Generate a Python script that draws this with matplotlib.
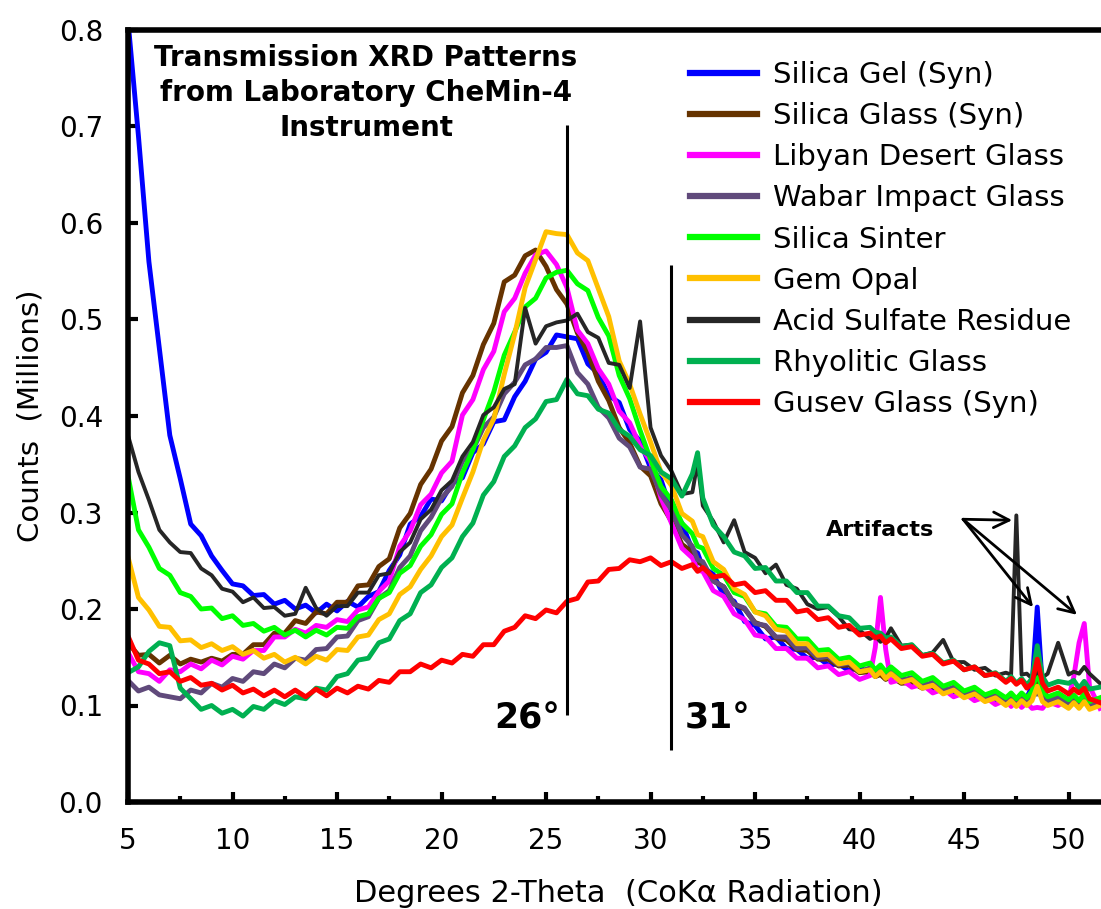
import numpy as np
import matplotlib
matplotlib.use("Agg")
import matplotlib.pyplot as plt
from matplotlib.ticker import MultipleLocator, FormatStrFormatter

# 2-theta sampling (degrees), extra points around the narrow artifact peaks
two_theta = [
    5.0, 5.5, 6.0, 6.5, 7.0, 7.5, 8.0, 8.5, 9.0, 9.5,
    10.0, 10.5, 11.0, 11.5, 12.0, 12.5, 13.0, 13.5, 14.0, 14.5,
    15.0, 15.5, 16.0, 16.5, 17.0, 17.5, 18.0, 18.5, 19.0, 19.5,
    20.0, 20.5, 21.0, 21.5, 22.0, 22.5, 23.0, 23.5, 24.0, 24.5,
    25.0, 25.5, 26.0, 26.5, 27.0, 27.5, 28.0, 28.5, 29.0, 29.5,
    30.0, 30.5, 31.0, 31.5, 32.0, 32.25, 32.5, 33.0, 33.5, 34.0, 34.5,
    35.0, 35.5, 36.0, 36.5, 37.0, 37.5, 38.0, 38.5, 39.0, 39.5,
    40.0, 40.5, 40.75, 41.0, 41.25, 41.5, 42.0, 42.5, 43.0, 43.5, 44.0, 44.5,
    45.0, 45.5, 46.0, 46.5, 47.0, 47.25, 47.5, 47.75, 48.0, 48.25, 48.5, 48.75, 49.0, 49.5,
    50.0, 50.25, 50.5, 50.75, 51.0, 51.5,
]

# counts in thousands
silica_gel = [
    810, 690, 560, 470, 380, 335, 288, 276, 255, 240,
    226, 224, 214, 215, 205, 209, 200, 204, 196, 205,
    198, 208, 202, 213, 218, 240, 256, 288, 296, 314,
    312, 330, 336, 362, 371, 394, 396, 420, 436, 459,
    466, 484, 482, 480, 454, 444, 421, 414, 386, 374,
    346, 334, 301, 289, 261, 258, 243, 236, 214, 208, 187,
    183, 169, 171, 159, 158, 149, 150, 142, 143, 136,
    140, 132, 136, 134, 135, 128, 130, 122, 124, 117, 119, 112,
    114, 108, 110, 104, 107, 102, 107, 104, 108, 120, 202, 118, 108, 109,
    103, 106, 101, 105, 100, 101,
]
silica_glass = [
    165, 152, 153, 144, 152, 143, 148, 145, 149, 146,
    153, 153, 163, 163, 175, 175, 188, 185, 197, 195,
    207, 207, 224, 225, 244, 252, 284, 299, 329, 345,
    374, 389, 424, 442, 474, 496, 539, 546, 566, 572,
    555, 531, 516, 486, 466, 436, 416, 388, 372, 348,
    338, 309, 291, 267, 259, 248, 247, 229, 223, 205, 200,
    186, 182, 170, 168, 158, 157, 148, 148, 141, 142,
    134, 135, 130, 132, 127, 130, 123, 124, 118, 120, 114, 116,
    110, 112, 107, 110, 105, 108, 104, 107, 105, 110, 125, 110, 106, 109,
    104, 107, 102, 106, 101, 102,
]
libyan_glass = [
    155, 135, 133, 125, 137, 135, 143, 138, 147, 142,
    151, 148, 157, 157, 171, 171, 179, 175, 183, 181,
    189, 187, 199, 202, 218, 229, 265, 281, 308, 319,
    341, 353, 401, 417, 448, 467, 508, 522, 548, 567,
    571, 557, 533, 489, 475, 449, 433, 405, 393, 369,
    353, 315, 289, 263, 253, 240, 239, 219, 213, 195, 189,
    173, 171, 159, 159, 149, 149, 139, 141, 132, 135,
    127, 131, 160, 212, 158, 124, 127, 119, 122, 113, 117, 109,
    113, 105, 109, 101, 106, 99, 105, 98, 103, 97, 98, 97, 104, 100,
    107, 130, 165, 185, 120, 97,
]
wabar_glass = [
    126, 115, 119, 111, 109, 107, 116, 113, 123, 119,
    128, 125, 135, 133, 143, 139, 149, 147, 158, 159,
    171, 172, 188, 192, 211, 219, 243, 255, 281, 295,
    315, 327, 353, 365, 388, 399, 423, 435, 453, 459,
    471, 471, 473, 445, 433, 409, 398, 377, 368, 347,
    345, 319, 303, 277, 265, 251, 249, 229, 223, 205, 201,
    185, 183, 171, 171, 159, 160, 149, 151, 142, 144,
    135, 139, 132, 137, 130, 135, 126, 129, 120, 124, 115, 119,
    111, 115, 107, 111, 104, 109, 103, 109, 104, 111, 112, 111, 104, 109,
    102, 107, 101, 107, 100, 104,
]
silica_sinter = [
    338, 282, 264, 242, 235, 217, 213, 200, 201, 190,
    193, 183, 185, 177, 181, 173, 178, 171, 178, 173,
    181, 180, 192, 195, 211, 217, 237, 245, 265, 277,
    298, 309, 341, 365, 396, 425, 463, 487, 513, 522,
    543, 549, 551, 537, 530, 502, 483, 442, 418, 385,
    355, 327, 313, 289, 278, 265, 263, 242, 235, 217, 213,
    197, 195, 182, 181, 169, 169, 157, 158, 148, 150,
    141, 144, 137, 142, 135, 140, 131, 134, 125, 129, 120, 124,
    115, 119, 111, 115, 108, 113, 107, 113, 108, 115, 135, 115, 109, 113,
    106, 111, 105, 112, 104, 108,
]
gem_opal = [
    254, 212, 199, 182, 181, 167, 168, 160, 164, 157,
    161, 153, 157, 149, 153, 145, 150, 143, 151, 147,
    158, 157, 171, 173, 189, 195, 215, 223, 241, 255,
    275, 287, 315, 342, 375, 397, 443, 485, 533, 562,
    591, 589, 588, 569, 561, 532, 503, 457, 433, 402,
    373, 342, 328, 299, 291, 277, 275, 249, 241, 221, 215,
    197, 193, 179, 177, 164, 164, 152, 153, 143, 145,
    135, 137, 130, 135, 128, 133, 124, 127, 118, 121, 112, 116,
    108, 112, 104, 108, 100, 105, 99, 105, 100, 105, 120, 104, 100, 104,
    97, 103, 97, 104, 96, 100,
]
acid_sulfate = [
    380, 342, 313, 282, 269, 259, 258, 242, 235, 221,
    218, 207, 212, 201, 202, 193, 195, 222, 201, 193,
    203, 203, 217, 217, 235, 237, 259, 269, 293, 303,
    323, 333, 358, 373, 401, 409, 428, 433, 512, 475,
    493, 497, 499, 506, 487, 481, 455, 453, 429, 498,
    388, 359, 343, 319, 321, 352, 307, 291, 269, 292, 259,
    253, 237, 246, 225, 221, 205, 200, 202, 192, 179,
    178, 169, 172, 166, 170, 180, 162, 163, 152, 155, 168, 145,
    145, 137, 139, 131, 134, 132, 297, 132, 133, 128, 135, 129, 133, 165,
    132, 135, 133, 140, 133, 123,
]
rhyolitic_glass = [
    134, 140, 156, 165, 162, 118, 107, 96, 100, 92,
    96, 89, 99, 96, 105, 101, 109, 107, 118, 116,
    130, 133, 147, 149, 165, 169, 188, 195, 217, 225,
    243, 253, 275, 289, 318, 332, 358, 369, 388, 397,
    415, 417, 438, 423, 421, 407, 403, 386, 379, 365,
    359, 342, 335, 317, 340, 362, 315, 287, 275, 259, 255,
    242, 243, 229, 229, 217, 217, 203, 203, 193, 191,
    180, 181, 176, 175, 170, 171, 161, 163, 152, 154, 144, 147,
    137, 140, 131, 134, 125, 130, 123, 128, 121, 128, 162, 130, 121, 125,
    123, 126, 118, 125, 117, 119,
]
gusev_glass = [
    172, 147, 143, 133, 135, 125, 129, 121, 123, 116,
    121, 113, 117, 110, 116, 109, 116, 109, 117, 110,
    118, 113, 120, 117, 126, 124, 135, 135, 143, 139,
    147, 144, 153, 151, 163, 163, 177, 181, 193, 190,
    199, 196, 208, 211, 228, 229, 241, 242, 251, 249,
    253, 245, 249, 242, 246, 239, 243, 233, 235, 225, 227,
    217, 219, 209, 209, 197, 199, 189, 191, 181, 183,
    173, 175, 170, 172, 165, 169, 159, 161, 151, 153, 143, 146,
    137, 140, 131, 133, 124, 128, 122, 126, 118, 123, 148, 123, 115, 119,
    112, 117, 113, 118, 107, 103,
]

series_names = [
    "Silica Gel (Syn)", "Silica Glass (Syn)", "Libyan Desert Glass",
    "Wabar Impact Glass", "Silica Sinter", "Gem Opal",
    "Acid Sulfate Residue", "Rhyolitic Glass", "Gusev Glass (Syn)",
]
series_values = [
    silica_gel, silica_glass, libyan_glass, wabar_glass, silica_sinter,
    gem_opal, acid_sulfate, rhyolitic_glass, gusev_glass,
]
series_colors = [
    "#0000FF", "#663300", "#FF00FF", "#604A7B", "#00FF00",
    "#FFC000", "#262626", "#00B050", "#FF0000",
]

x = np.array(two_theta)

fig = plt.figure(figsize=(11.01, 9.09), dpi=100)
ax = fig.add_axes([128 / 1101, 107 / 909, 973 / 1101, 772 / 909])

for name, vals, col in zip(series_names, series_values, series_colors):
    y = np.array(vals) / 1000.0   # thousands -> millions
    lw = 2.8 if name == "Acid Sulfate Residue" else 3.5
    ax.plot(x, y, color=col, lw=lw, label=name, solid_joinstyle="round")

ax.set_xlim(5, 51.55)
ax.set_ylim(0, 0.8)

# axes styling
for side in ["left", "bottom", "top"]:
    ax.spines[side].set_linewidth(4)
ax.spines["right"].set_visible(False)
ax.xaxis.set_major_locator(MultipleLocator(5))
ax.xaxis.set_minor_locator(MultipleLocator(2.5))
ax.yaxis.set_major_locator(MultipleLocator(0.1))
ax.yaxis.set_major_formatter(FormatStrFormatter("%.1f"))
ax.tick_params(which="major", direction="in", length=7, width=3,
               labelsize=20, pad=18, top=False, right=False)
ax.tick_params(which="minor", direction="in", length=4, width=3,
               top=False, right=False)

ax.set_ylabel("Counts  (Millions)", fontsize=21, va="center")
ax.yaxis.set_label_coords(-0.1007, 0.50)
ax.set_xlabel("Degrees 2-Theta  (CoK\u03b1 Radiation)", fontsize=22, va="center")
ax.xaxis.set_label_coords(0.5036, -0.118)

# title inside the plot
ax.text((366 - 128) / 973, (802 - 93) / 772,
        "Transmission XRD Patterns\nfrom Laboratory CheMin-4\nInstrument",
        transform=ax.transAxes, ha="center", va="center",
        fontsize=20, fontweight="bold", linespacing=1.3)

# reference lines at 26 and 31 degrees
ax.vlines([26.0], 0.090, 0.702, color="black", lw=2.2)
ax.vlines([31.0], 0.054, 0.556, color="black", lw=2.2)
ax.text(24.1, 0.087, "26\u00b0", fontsize=25, fontweight="bold",
        ha="center", va="center")
ax.text(33.2, 0.087, "31\u00b0", fontsize=25, fontweight="bold",
        ha="center", va="center")

# artifacts annotation
ax.text(41.0, 0.282, "Artifacts", fontsize=16, fontweight="bold",
        ha="center", va="center")
for tx, ty in [(47.3, 0.292), (48.3, 0.202), (50.4, 0.194)]:
    ax.annotate("", xy=(tx, ty), xytext=(44.95, 0.293),
                arrowprops=dict(arrowstyle="->", lw=2, color="black",
                                mutation_scale=28, shrinkA=0, shrinkB=0))

leg = ax.legend(loc="upper left", bbox_to_anchor=(690 / 1101, 1 - 61 / 909),
                bbox_transform=fig.transFigure, frameon=False, fontsize=21,
                handlelength=2.3, handletextpad=0.55, labelspacing=0.45,
                borderpad=0, borderaxespad=0)
for line in leg.get_lines():
    line.set_linewidth(4.5)

fig.savefig("out.png", dpi=100)
